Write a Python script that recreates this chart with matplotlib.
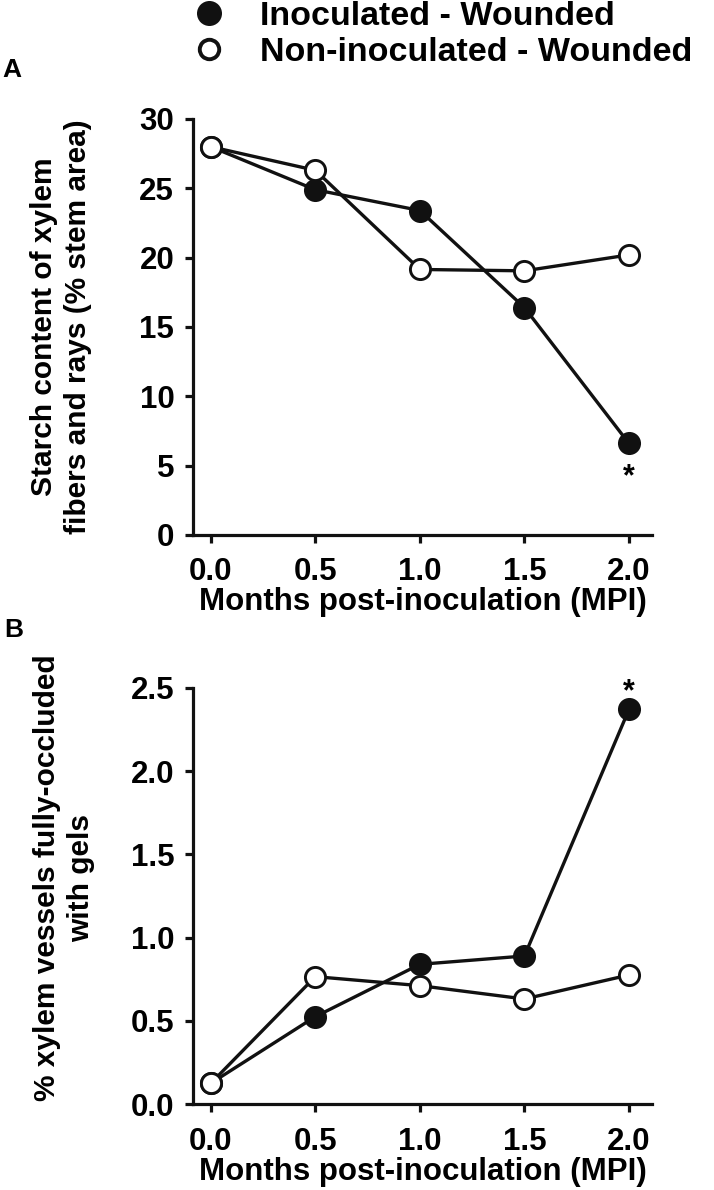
import matplotlib
matplotlib.use("Agg")
import matplotlib.pyplot as plt
from matplotlib.lines import Line2D

plt.rcParams['font.family'] = ['Liberation Sans', 'DejaVu Sans']
plt.rcParams['font.weight'] = 'bold'

# ---- data ----
mpi = [0.0, 0.5, 1.0, 1.5, 2.0]
starch_inoc = [28.0, 24.9, 23.4, 16.4, 6.6]
starch_noninoc = [28.0, 26.3, 19.15, 19.05, 20.2]
gels_inoc = [0.126, 0.526, 0.84, 0.89, 2.37]
gels_noninoc = [0.126, 0.766, 0.712, 0.632, 0.776]

legend_labels = ["Inoculated - Wounded", "Non-inoculated - Wounded"]
xticks = [0.0, 0.5, 1.0, 1.5, 2.0]
yticks_a = [0, 5, 10, 15, 20, 25, 30]
yticks_b = [0.0, 0.5, 1.0, 1.5, 2.0, 2.5]
xlabel = "Months post-inoculation (MPI)"
ylabel_a = "Starch content of xylem\nfibers and rays (% stem area)"
ylabel_b = "% xylem vessels fully-occluded\nwith gels"

W, H = 714, 1190
fig = plt.figure(figsize=(W / 100, H / 100), dpi=100)

ax_left = 193 / W
ax_w = (652 - 193) / W
axA = fig.add_axes([ax_left, 1 - 535 / H, ax_w, 416 / H])
axB = fig.add_axes([ax_left, 1 - 1104.3 / H, ax_w, 416.6 / H])

LW = 2.4
MS = 14.5
MEW = 2.1
TICKFS = 22.5
LABFS = 22.5

def style(ax, yticks, ylim, fmt):
    for s in ['top', 'right']:
        ax.spines[s].set_visible(False)
    for s in ['left', 'bottom']:
        ax.spines[s].set_linewidth(2.3)
        ax.spines[s].set_color('#111111')
    ax.set_xlim(-0.085, 2.11)
    ax.set_ylim(*ylim)
    ax.set_xticks(xticks)
    ax.set_xticklabels([f"{v:.1f}" for v in xticks])
    ax.set_yticks(yticks)
    ax.set_yticklabels([fmt(v) for v in yticks])
    ax.tick_params(axis='both', direction='out', length=6, width=2.3,
                   color='#111111', labelsize=TICKFS)
    ax.tick_params(axis='x', pad=10)
    ax.tick_params(axis='y', pad=7.5)
    for lab in ax.get_xticklabels() + ax.get_yticklabels():
        lab.set_fontweight('bold')
    ax.set_xlabel(xlabel, fontsize=LABFS, fontweight='bold', labelpad=0)
    ax.patch.set_visible(False)

def draw(ax, yi, yn):
    ax.plot(mpi, yi, color='#111111', lw=LW, marker='o', ms=MS,
            mfc='#111111', mec='#111111', mew=MEW, clip_on=False, zorder=3)
    ax.plot(mpi, yn, color='#111111', lw=LW, marker='o', ms=MS,
            mfc='white', mec='#111111', mew=MEW, clip_on=False, zorder=4)

draw(axA, starch_inoc, starch_noninoc)
draw(axB, gels_inoc, gels_noninoc)
style(axA, yticks_a, (0, 30), lambda v: f"{v:d}")
style(axB, yticks_b, (0, 2.5), lambda v: f"{v:.1f}")

axA.set_ylabel(ylabel_a, fontsize=21.5, fontweight='bold', va='center',
               linespacing=1.25)
axA.yaxis.set_label_coords((61 - 193) / (652 - 193), 0.5)
axB.set_ylabel(ylabel_b, fontsize=21.5, fontweight='bold', va='center',
               linespacing=1.25)
axB.yaxis.set_label_coords((64 - 193) / (652 - 193), 0.543)

# significance asterisks
axA.annotate('*', xy=(mpi[-1], starch_inoc[-1]), xytext=(0, -30),
             textcoords='offset points', ha='center', va='baseline',
             fontsize=22, fontweight='bold', annotation_clip=False)
axB.annotate('*', xy=(mpi[-1], gels_inoc[-1]), xytext=(0, 6.5),
             textcoords='offset points', ha='center', va='baseline',
             fontsize=22, fontweight='bold', annotation_clip=False)

# panel letters
fig.text(2 / W, 1 - 77 / H, 'A', fontsize=19, fontweight='bold', ha='left', va='baseline')
fig.text(4 / W, 1 - 637 / H, 'B', fontsize=19, fontweight='bold', ha='left', va='baseline')

# legend
handles = [
    Line2D([], [], ls='none', marker='o', ms=16, mfc='#111111', mec='#111111', mew=2),
    Line2D([], [], ls='none', marker='o', ms=14, mfc='white', mec='#111111', mew=2.8),
]
fig.legend(handles, legend_labels, loc='upper left',
           bbox_to_anchor=(192 / W, 1 - 1 / H), frameon=False,
           prop={'weight': 'bold', 'size': 24.5},
           handlelength=1.0, handletextpad=1.0, labelspacing=0.15,
           borderpad=0, borderaxespad=0)

fig.savefig('out.png', dpi=100, facecolor='white')
